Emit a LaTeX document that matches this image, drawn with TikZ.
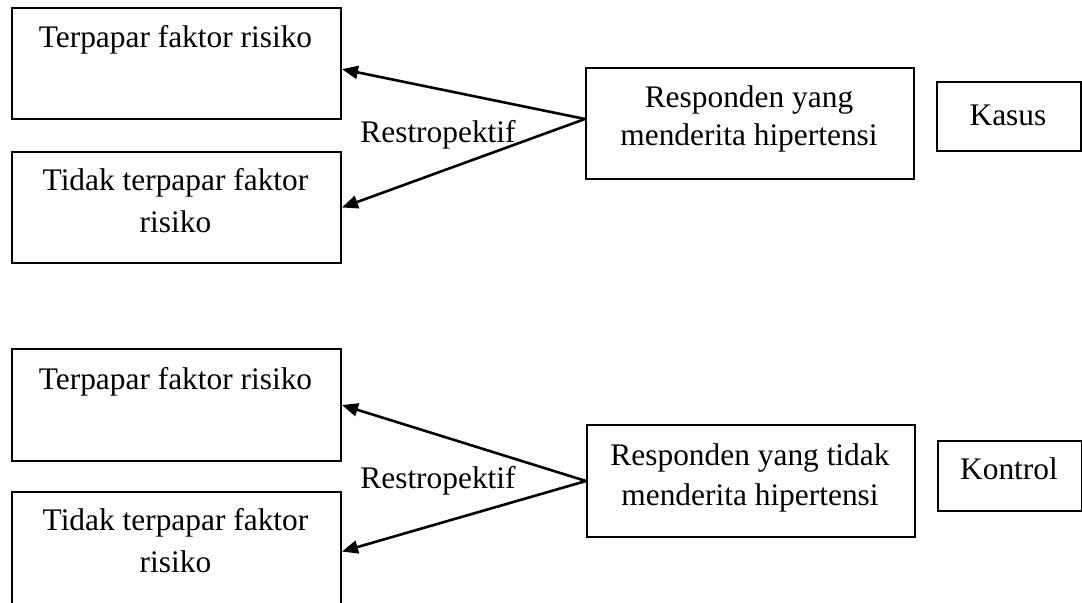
\documentclass[tikz,border=0pt]{standalone}
\usepackage{fontspec}
\setmainfont{Liberation Serif}
\usetikzlibrary{arrows.meta,calc}
\begin{document}
\begin{tikzpicture}[x=0.5pt,y=-0.5pt,
  box/.style={draw, line width=1pt, inner sep=0pt, anchor=north west},
  txt/.style={anchor=base, inner sep=0pt, font=\fontsize{15.7}{19}\selectfont},
  arr/.style={-{Triangle[length=8pt,width=6.5pt]}, line width=1.3pt}]
\useasboundingbox (0,0) rectangle (1082,602);
\clip (0,0) rectangle (1082,602);
% upper group
\node[box, minimum width=164.5pt, minimum height=55.5pt] (b1) at (11,7) {};
\node[box, minimum width=164.5pt, minimum height=55.5pt] (b2) at (11,151) {};
\node[box, minimum width=164pt, minimum height=55.5pt] (rb1) at (585,67) {};
\node[box, minimum width=72pt, minimum height=34.5pt] (k1) at (936,81) {};
\node[txt] (t1) at (175.5,47) {Terpapar faktor risiko};
\node[txt] (t2a) at (175.5,190) {Tidak terpapar faktor};
\node[txt] (t2b) at (175.5,232) {risiko};
\node[txt] (r1a) at (749,107) {Responden yang};
\node[txt] (r1b) at (749,145) {menderita hipertensi};
\node[txt] (kasus) at (1008,125) {Kasus};
\node[txt, anchor=base west] (rs1) at (360,142) {Restropektif};
\coordinate (c1) at ($(rb1.north west)!0.46!(rb1.south west)$);
\coordinate (e1) at ($(b1.north east)!0.55!(b1.south east)$);
\draw[arr] (c1) -- (e1);
\draw[arr] (c1) -- (b2.east);
% lower group
\node[box, minimum width=164.5pt, minimum height=56pt] (b3) at (11,348) {};
\node[box, minimum width=164.5pt, minimum height=59.5pt] (b4) at (11,491) {};
\node[box, minimum width=164pt, minimum height=56pt] (rb2) at (586,424) {};
\node[box, minimum width=72pt, minimum height=35pt] (k2) at (937,440) {};
\node[txt] (t3) at (175.5,389) {Terpapar faktor risiko};
\node[txt] (t4a) at (175.5,530) {Tidak terpapar faktor};
\node[txt] (t4b) at (175.5,572) {risiko};
\node[txt] (r2a) at (750,465) {Responden yang tidak};
\node[txt] (r2b) at (750,505) {menderita hipertensi};
\node[txt] (kontrol) at (1009,479) {Kontrol};
\node[txt, anchor=base west] (rs2) at (360,488) {Restropektif};
\draw[arr] (rb2.west) -- (b3.east);
\draw[arr] (rb2.west) -- (b4.east);
\end{tikzpicture}
\end{document}
